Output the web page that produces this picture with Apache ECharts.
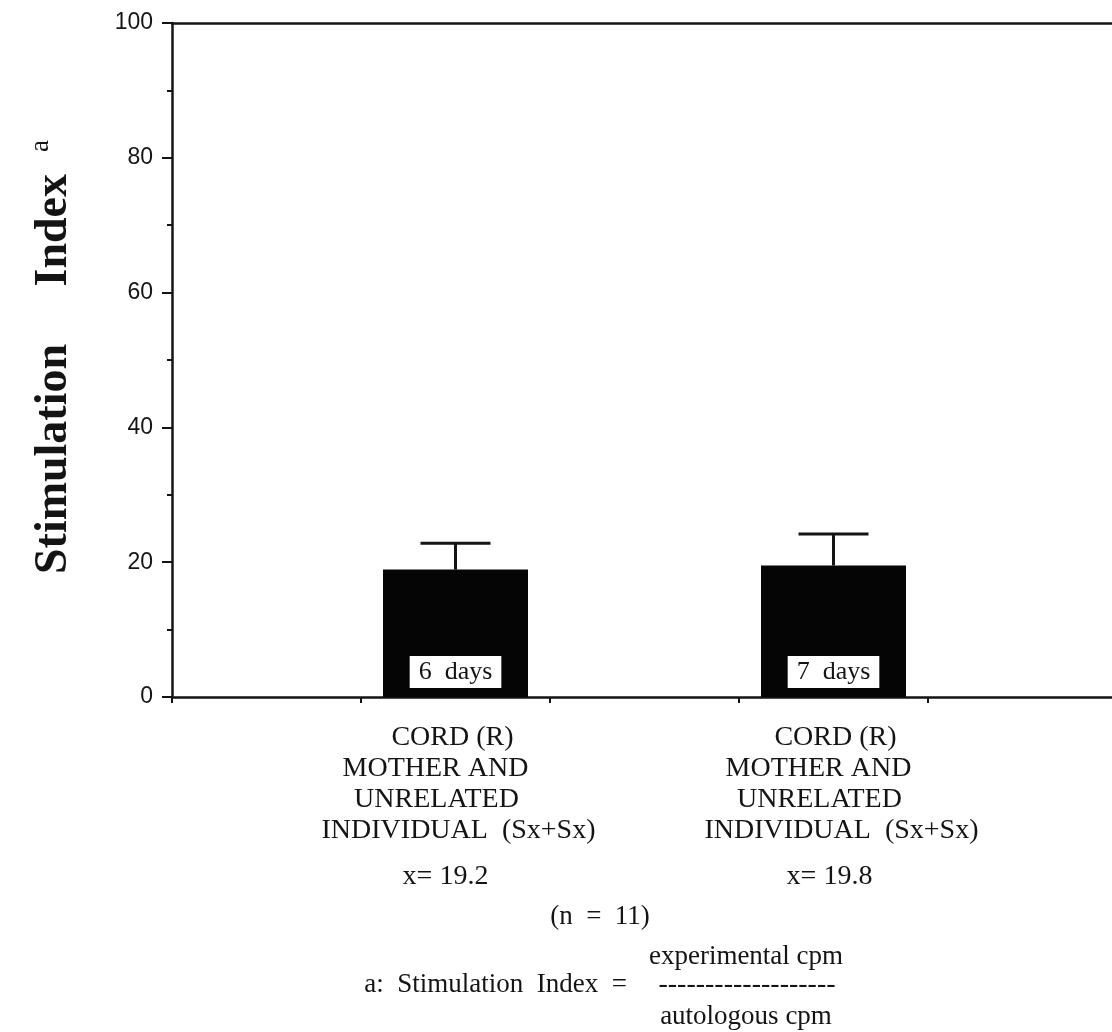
<!DOCTYPE html>
<html>
<head>
<meta charset="utf-8">
<script src="https://cdn.jsdelivr.net/npm/echarts@6/dist/echarts.min.js"></script>
<style>
  html, body { margin: 0; padding: 0; background: #ffffff; overflow: hidden; }
  #chart { width: 1124px; height: 1032px; }
</style>
</head>
<body>
<div id="chart"></div>
<script>
// ---------- data ----------
const categories = ['gap-left', 'day6', 'gap-mid', 'day7', 'gap-right'];
const barValues = [null, 18.9, null, 19.5, null];
const errorUpper = [null, 22.8, null, 24.2, null];
const barLabels = ['', '6  days', '', '7  days', ''];
const groupLines = [
  [],
  ['CORD (R)', 'MOTHER AND', 'UNRELATED', 'INDIVIDUAL  (Sx+Sx)'],
  [],
  ['CORD (R)', 'MOTHER AND', 'UNRELATED', 'INDIVIDUAL  (Sx+Sx)'],
  []
];
const meanLabels = ['', 'x= 19.2', '', 'x= 19.8', ''];
const yMin = 0, yMax = 100, yInterval = 20;
const yTitle = 'Stimulation     Index';
const yTitleSup = 'a';
const footN = '(n  =  11)';
const formulaLead = 'a:  Stimulation  Index  =';
const formulaTop = 'experimental cpm';
const formulaRule = '-------------------';
const formulaBottom = 'autologous cpm';

// ---------- styling ----------
const INK = '#141414';
const SERIF = "'Liberation Serif', 'Times New Roman', serif";
const SANS = "'Liberation Sans', Arial, sans-serif";
// small horizontal nudges (px) of each label line, per category index
const lineShift = {1: [-3, -20, -19, 3, -10], 3: [2, -15, -14, 8, -4]};

const rich = {};
function styleName(d, last) {
  const key = (last ? 'm' : 'l') + (d < 0 ? 'n' + (-d) : 'p' + d);
  if (!rich[key]) {
    rich[key] = {
      fontFamily: SERIF, fontSize: 28, color: INK,
      lineHeight: last ? 62 : 31,
      padding: d > 0 ? [0, 0, 0, 2 * d] : [0, -2 * d, 0, 0]
    };
  }
  return key;
}
function categoryLabel(idx) {
  const lines = groupLines[idx];
  if (!lines || !lines.length) return '';
  const sh = lineShift[idx] || [0, 0, 0, 0, 0];
  const parts = lines.map((t, k) => '{' + styleName(sh[k], false) + '|' + t + '}');
  parts.push('{' + styleName(sh[lines.length], true) + '|' + meanLabels[idx] + '}');
  return parts.join('\n');
}
categories.forEach((c, i) => categoryLabel(i));

const chart = echarts.init(document.getElementById('chart'), null, {renderer: 'canvas'});

const option = {
  backgroundColor: '#ffffff',
  animation: false,
  grid: { left: 172, top: 23, width: 945, height: 674, containLabel: false },
  xAxis: [
    {
      type: 'category',
      data: categories,
      position: 'bottom',
      boundaryGap: true,
      axisLine: { show: true, lineStyle: { color: INK, width: 2.5 } },
      axisTick: { show: true, length: 6, inside: false, lineStyle: { color: INK, width: 2 } },
      axisLabel: {
        interval: 0,
        margin: 25,
        hideOverlap: false,
        formatter: function (v, i) { return categoryLabel(i); },
        rich: rich
      },
      splitLine: { show: false }
    },
    {
      type: 'category',
      data: categories,
      position: 'top',
      axisLine: { show: true, lineStyle: { color: INK, width: 2.5 } },
      axisTick: { show: false },
      axisLabel: { show: false },
      splitLine: { show: false }
    }
  ],
  yAxis: {
    type: 'value',
    min: yMin, max: yMax, interval: yInterval,
    name: yTitle,
    nameLocation: 'middle',
    nameRotate: 90,
    nameGap: 95,
    nameTextStyle: {
      fontFamily: SERIF, fontSize: 46, fontWeight: 'bold', color: INK,
      padding: [0, 28, 0, 0]
    },
    axisLine: { show: true, lineStyle: { color: INK, width: 2.5 } },
    axisTick: { show: true, length: 10, inside: false, lineStyle: { color: INK, width: 2 } },
    minorTick: { show: true, splitNumber: 2, length: 5, lineStyle: { color: INK, width: 2 } },
    axisLabel: { fontFamily: SANS, fontSize: 23, color: INK, margin: 19 },
    splitLine: { show: false }
  },
  series: [
    {
      type: 'bar',
      data: barValues,
      barWidth: 145,
      itemStyle: { color: '#050505' },
      label: {
        show: true,
        position: 'insideBottom',
        distance: 9,
        formatter: function (p) { return barLabels[p.dataIndex]; },
        fontFamily: SERIF, fontSize: 26, color: INK,
        lineHeight: 24,
        backgroundColor: '#ffffff',
        padding: [4, 9, 4, 9]
      },
      z: 2
    },
    {
      type: 'custom',
      data: categories.map((c, i) => [i, barValues[i], errorUpper[i]]).filter(d => d[1] != null),
      encode: { x: 0, y: [1, 2] },
      renderItem: function (params, api) {
        const idx = api.value(0);
        const base = api.coord([idx, api.value(1)]);
        const top = api.coord([idx, api.value(2)]);
        const st = { stroke: INK, lineWidth: 3 };
        return {
          type: 'group',
          children: [
            { type: 'line', shape: { x1: base[0], y1: base[1], x2: top[0], y2: top[1] }, style: st },
            { type: 'line', shape: { x1: top[0] - 35, y1: top[1], x2: top[0] + 35, y2: top[1] }, style: st }
          ]
        };
      },
      z: 3
    }
  ],
  graphic: [
    {
      type: 'text', left: 27, top: 140, rotation: Math.PI / 2,
      style: { text: yTitleSup, fontFamily: SERIF, fontSize: 27, fill: INK }
    },
    {
      type: 'text', x: 600, y: 917,
      style: { text: footN, fontFamily: SERIF, fontSize: 27, fill: INK, align: 'center', verticalAlign: 'middle' }
    },
    {
      type: 'text', x: 746, y: 957,
      style: { text: formulaTop, fontFamily: SERIF, fontSize: 27, fill: INK, align: 'center', verticalAlign: 'middle' }
    },
    {
      type: 'text', x: 627, y: 985,
      style: { text: formulaLead, fontFamily: SERIF, fontSize: 27, fill: INK, align: 'right', verticalAlign: 'middle' }
    },
    {
      type: 'text', x: 747, y: 985,
      style: { text: formulaRule, fontFamily: SERIF, fontSize: 28, fill: INK, align: 'center', verticalAlign: 'middle' }
    },
    {
      type: 'text', x: 746, y: 1017,
      style: { text: formulaBottom, fontFamily: SERIF, fontSize: 27, fill: INK, align: 'center', verticalAlign: 'middle' }
    }
  ]
};
chart.setOption(option);
</script>
</body>
</html>
